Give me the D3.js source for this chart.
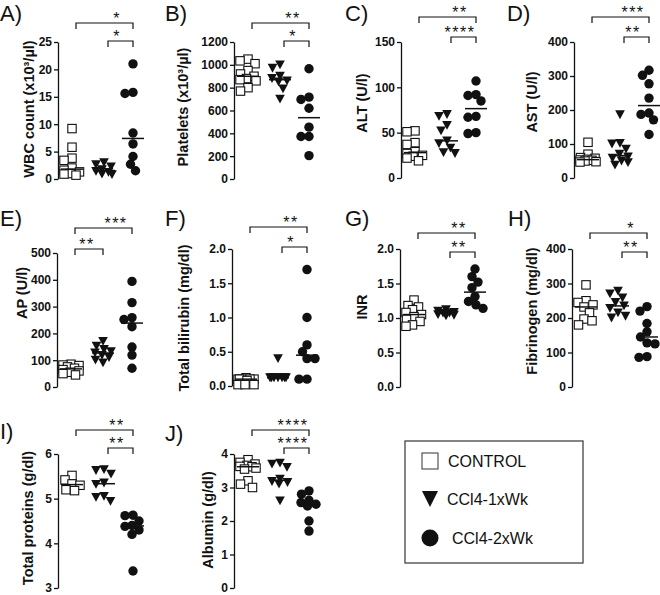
<!DOCTYPE html>
<html>
<head>
<meta charset="utf-8">
<script src="https://cdn.jsdelivr.net/npm/d3@7"></script>
<style>
  body { margin: 0; background: #fff; }
  svg { font-family: "Liberation Sans", Arial, sans-serif; }
</style>
</head>
<body>
<svg id="chart" width="660" height="595"></svg>
<script>
// Serum / blood parameters, scatter dot plots with medians, 3 groups each.

const groups = ["CONTROL", "CCl4-1xWk", "CCl4-2xWk"];

const panelLetters = ["A)", "B)", "C)", "D)", "E)", "F)", "G)", "H)", "I)", "J)"];
const axisTitles = [
  "WBC count (x10³/µl)", "Platelets (x10³/µl)", "ALT (U/l)", "AST (U/l)",
  "AP (U/l)", "Total bilirubin (mg/dl)", "INR", "Fibrinogen (mg/dl)",
  "Total proteins (g/dl)", "Albumin (g/dl)"
];

// values: [control, 1x week, 2x week]
const wbc = [
  [9.2, 5.8, 3.8, 3.4, 2.0, 1.6, 1.3, 1.0, 0.9, 0.7],
  [3.0, 2.6, 2.2, 1.7, 1.4, 1.2, 0.9, 0.8],
  [21.0, 15.8, 15.6, 8.4, 6.4, 4.1, 2.7, 1.5]
];
const platelets = [
  [1050, 1035, 1010, 950, 920, 900, 880, 870, 860, 800, 770],
  [1000, 970, 900, 880, 860, 850, 790, 700],
  [966, 717, 697, 620, 454, 372, 372, 205]
];
const alt = [
  [52, 51, 39, 37, 29, 27, 25, 24, 22, 19],
  [70, 68, 58, 52, 41, 38, 33, 28, 27],
  [107, 92, 91, 85, 68, 67, 50, 49]
];
const ast = [
  [105, 70, 60, 58, 55, 53, 52, 50, 48, 47],
  [186, 102, 100, 85, 70, 62, 58, 50, 45, 38],
  [317, 302, 277, 235, 191, 187, 171, 128]
];
const ap = [
  [85, 82, 80, 75, 70, 65, 60, 55, 50, 45],
  [170, 152, 140, 132, 127, 118, 110, 100, 90],
  [394, 315, 259, 252, 225, 149, 119, 70]
];
const bilirubin = [
  [0.12, 0.1, 0.1, 0.1, 0.1, 0.1, 0.08, 0.02, 0.02, 0.02],
  [0.4, 0.12, 0.12, 0.12, 0.12, 0.12, 0.12, 0.12],
  [1.7, 1.0, 0.6, 0.5, 0.4, 0.4, 0.1, 0.1]
];
const inr = [
  [1.26, 1.18, 1.16, 1.12, 1.08, 1.05, 1.02, 0.98, 0.95, 0.9, 0.88],
  [1.12, 1.1, 1.08, 1.07, 1.07, 1.05, 1.04, 1.03],
  [1.71, 1.6, 1.52, 1.44, 1.31, 1.24, 1.19, 1.14]
];
const fibrinogen = [
  [296, 250, 245, 238, 232, 215, 197, 192, 180],
  [278, 270, 258, 245, 235, 228, 215, 205, 200],
  [233, 220, 184, 160, 145, 128, 125, 88, 86]
];
const proteins = [
  [5.52, 5.42, 5.33, 5.3, 5.2, 5.18],
  [5.65, 5.63, 5.55, 5.35, 5.32, 5.05, 5.03, 4.94],
  [4.63, 4.62, 4.5, 4.4, 4.38, 4.3, 4.2, 3.38]
];
const albumin = [
  [3.83, 3.75, 3.7, 3.66, 3.63, 3.62, 3.58, 3.55, 3.2, 3.1, 3.0],
  [3.73, 3.7, 3.6, 3.25, 3.18, 3.15, 3.1, 2.6],
  [2.9, 2.8, 2.62, 2.55, 2.5, 2.45, 2.0, 1.7]
];

// tick labels
const wbcTicks = [0, 5, 10, 15, 20, 25];
const plateletTicks = [0, 200, 400, 600, 800, 1000, 1200];
const altTicks = [0, 50, 100, 150];
const astTicks = [0, 100, 200, 300, 400];
const apTicks = [0, 100, 200, 300, 400, 500];
const bilirubinTicks = [0.0, 0.5, 1.0, 1.5, 2.0];
const inrTicks = [0.0, 0.5, 1.0, 1.5, 2.0];
const fibrinogenTicks = [0, 100, 200, 300, 400];
const proteinTicks = [3, 4, 5, 6];
const albuminTicks = [0, 1, 2, 3, 4];

// significance brackets: [from group, to group, stars]
const wbcSig = [[0, 2, "*"], [1, 2, "*"]];
const plateletSig = [[0, 2, "**"], [1, 2, "*"]];
const altSig = [[0, 2, "**"], [1, 2, "****"]];
const astSig = [[0, 2, "***"], [1, 2, "**"]];
const apSig = [[0, 2, "***"], [0, 1, "**"]];
const bilirubinSig = [[0, 2, "**"], [1, 2, "*"]];
const inrSig = [[0, 2, "**"], [1, 2, "**"]];
const fibrinogenSig = [[0, 2, "*"], [1, 2, "**"]];
const proteinSig = [[0, 2, "**"], [1, 2, "**"]];
const albuminSig = [[0, 2, "****"], [1, 2, "****"]];

const values = [wbc, platelets, alt, ast, ap, bilirubin, inr, fibrinogen, proteins, albumin];
const ticks = [wbcTicks, plateletTicks, altTicks, astTicks, apTicks, bilirubinTicks,
  inrTicks, fibrinogenTicks, proteinTicks, albuminTicks];
const sigs = [wbcSig, plateletSig, altSig, astSig, apSig, bilirubinSig,
  inrSig, fibrinogenSig, proteinSig, albuminSig];

// layout per panel: axis x, y bottom/top, letter pos, title pos, bracket rows
const layout = [
  { ax: 58, y0: 179, y1: 42, lx: 0, ly: 21, tx: 34, ty: 109, br: [23, 41] },
  { ax: 234, y0: 179, y1: 42, lx: 165, ly: 21, tx: 188, ty: 107, br: [23, 41] },
  { ax: 401, y0: 178, y1: 42, lx: 345, ly: 21, tx: 367, ty: 103, br: [17, 37] },
  { ax: 574, y0: 178, y1: 42, lx: 507, ly: 21, tx: 537, ty: 102, br: [17, 37] },
  { ax: 57, y0: 387, y1: 253, lx: 0, ly: 226, tx: 27, ty: 293, br: [228, 249] },
  { ax: 232, y0: 386, y1: 249, lx: 165, ly: 226, tx: 189, ty: 318, br: [227, 247] },
  { ax: 400, y0: 387, y1: 249, lx: 345, ly: 226, tx: 367, ty: 307, br: [233, 252] },
  { ax: 572, y0: 387, y1: 249, lx: 508, ly: 226, tx: 537, ty: 311, br: [233, 252] },
  { ax: 58, y0: 588, y1: 454, lx: 0, ly: 439, tx: 33, ty: 518, br: [430, 448] },
  { ax: 234, y0: 588, y1: 454, lx: 165, ly: 441, tx: 213, ty: 520, br: [430, 448] }
];
const groupOffsets = [14, 46, 75];

const svg = d3.select("#chart");

const triDown = (w, h) => `M${-w / 2},${-h / 2}L${w / 2},${-h / 2}L0,${h / 2}Z`;

const drawMarker = (sel, g, size) => {
  if (g === 0) {
    sel.append("rect")
      .attr("x", -size / 2).attr("y", -size / 2)
      .attr("width", size).attr("height", size)
      .attr("fill", "#fff").attr("stroke", "#111").attr("stroke-width", 1.1);
  } else if (g === 1) {
    sel.append("path").attr("d", triDown(size * 1.15, size * 1.05)).attr("fill", "#111");
  } else {
    sel.append("circle").attr("r", size * 0.56).attr("fill", "#111");
  }
};

// simple beeswarm: keep points close to the centre, spread the ones that collide
const swarm = (vals, y, D, maxW) => {
  const pts = vals.map((v) => ({ v: v, y: y(v), dx: 0 }));
  const placed = [];
  pts.forEach((p) => {
    let best = 0;
    let bestCost = Infinity;
    for (let s = 0; s <= maxW; s += 0.5) {
      const cands = s === 0 ? [0] : [-s, s];
      cands.forEach((c) => {
        let cost = 0;
        placed.forEach((q) => {
          const d = Math.hypot(q.dx - c, q.y - p.y);
          if (d < D) cost += (D - d) * (D - d);
        });
        if (cost < bestCost - 1e-6) {
          bestCost = cost;
          best = c;
        }
      });
    }
    p.dx = best;
    placed.push(p);
  });
  return pts;
};

values.forEach((data, i) => {
  const L = layout[i];
  const t = ticks[i];
  const g = svg.append("g");

  const y = d3.scaleLinear().domain([t[0], t[t.length - 1]]).range([L.y0, L.y1]);
  const x = d3.scaleOrdinal().domain(groups).range(groupOffsets.map((o) => L.ax + o));

  const fmt = t[t.length - 1] === 2 ? d3.format(".1f") : d3.format("d");

  const axis = g.append("g")
    .attr("transform", `translate(${L.ax},0)`)
    .call(d3.axisLeft(y).tickValues(t).tickFormat(fmt).tickSize(4).tickSizeOuter(0).tickPadding(2));
  axis.select(".domain").attr("stroke", "#111").attr("stroke-width", 1.3);
  axis.selectAll(".tick line").attr("stroke", "#111").attr("stroke-width", 1.3);
  axis.selectAll(".tick text")
    .attr("fill", "#111").attr("font-size", 12).attr("font-weight", "bold")
    .attr("font-family", "'Liberation Sans', Arial, sans-serif");

  // panel letter
  g.append("text")
    .attr("x", L.lx).attr("y", L.ly)
    .attr("font-size", 22).attr("fill", "#111")
    .text(panelLetters[i]);

  // axis title
  g.append("text")
    .attr("transform", `translate(${L.tx},${L.ty}) rotate(-90)`)
    .attr("text-anchor", "middle")
    .attr("font-size", 14.5).attr("font-weight", "bold").attr("fill", "#111")
    .text(axisTitles[i]);

  // points
  data.forEach((vals, gi) => {
    const pts = swarm(vals, y, 8, 8);
    const cx = x(groups[gi]);
    pts.forEach((p) => {
      const m = g.append("g").attr("transform", `translate(${cx + p.dx},${p.y})`);
      drawMarker(m, gi, 8.4);
    });
    const med = d3.median(vals);
    g.append("line")
      .attr("x1", cx - 11).attr("x2", cx + 11)
      .attr("y1", y(med)).attr("y2", y(med))
      .attr("stroke", "#111").attr("stroke-width", 1.5);
  });

  // significance brackets
  sigs[i].forEach((s, k) => {
    const by = L.br[k];
    const x1 = x(groups[s[0]]) + 4;
    const x2 = x(groups[s[1]]);
    g.append("path")
      .attr("d", `M${x1},${by + 6}V${by}H${x2}V${by + 6}`)
      .attr("fill", "none").attr("stroke", "#111").attr("stroke-width", 1.2);
    g.append("text")
      .attr("x", x2 - 16).attr("y", by + 1)
      .attr("text-anchor", "middle")
      .attr("font-size", 16).attr("fill", "#111")
      .attr("letter-spacing", 1.5)
      .text(s[2]);
  });
});

// legend
const legend = svg.append("g");
legend.append("rect")
  .attr("x", 405).attr("y", 441).attr("width", 178).attr("height", 122)
  .attr("fill", "#fff").attr("stroke", "#444").attr("stroke-width", 1.3);

const legendRows = [
  { cy: 461, tx: 448 },
  { cy: 499, tx: 447 },
  { cy: 538, tx: 452 }
];
groups.forEach((name, gi) => {
  const r = legendRows[gi];
  const m = legend.append("g").attr("transform", `translate(430,${r.cy})`);
  if (gi === 0) {
    m.append("rect").attr("x", -8).attr("y", -8).attr("width", 16).attr("height", 16)
      .attr("fill", "#fff").attr("stroke", "#333").attr("stroke-width", 1);
  } else if (gi === 1) {
    m.append("path").attr("d", triDown(16, 16)).attr("fill", "#111");
  } else {
    m.append("circle").attr("r", 8.5).attr("fill", "#111");
  }
  legend.append("text")
    .attr("x", r.tx).attr("y", r.cy + 6)
    .attr("font-size", 16).attr("fill", "#111")
    .text(name);
});
</script>
</body>
</html>
